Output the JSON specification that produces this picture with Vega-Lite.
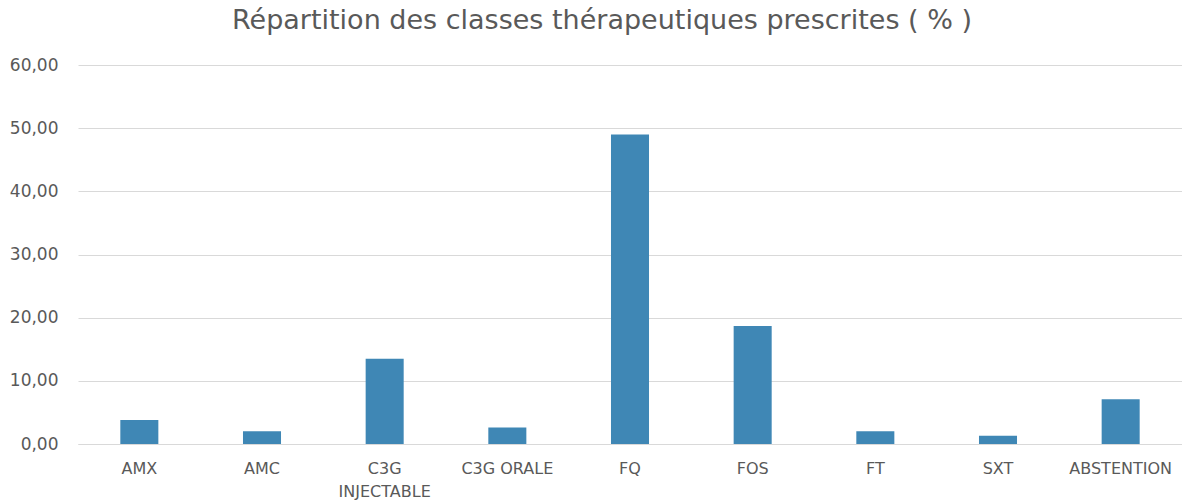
{
  "$schema": "https://vega.github.io/schema/vega-lite/v6.json",
  "width": 1104,
  "height": 379,
  "autosize": {"type": "none"},
  "padding": {"left": 78, "top": 65, "right": 0, "bottom": 57},
  "background": "white",
  "title": {
    "text": "Répartition des classes thérapeutiques prescrites ( % )",
    "anchor": "start",
    "frame": "group",
    "dx": 154,
    "offset": 21,
    "font": "DejaVu Sans",
    "fontSize": 27,
    "fontWeight": "normal",
    "color": "#595959"
  },
  "data": {
    "values": [
      {"classe": "AMX", "pct": 3.8},
      {"classe": "AMC", "pct": 2.0},
      {"classe": "C3G INJECTABLE", "pct": 13.5},
      {"classe": "C3G ORALE", "pct": 2.6},
      {"classe": "FQ", "pct": 49.0},
      {"classe": "FOS", "pct": 18.7},
      {"classe": "FT", "pct": 2.0},
      {"classe": "SXT", "pct": 1.3},
      {"classe": "ABSTENTION", "pct": 7.1}
    ]
  },
  "mark": {"type": "bar", "color": "#3f87b5"},
  "encoding": {
    "x": {
      "field": "classe",
      "type": "nominal",
      "sort": null,
      "scale": {"paddingInner": 0.69, "paddingOuter": 0.345},
      "axis": {
        "title": null,
        "labelAngle": 0,
        "ticks": false,
        "domain": true,
        "domainColor": "#d9d9d9",
        "labelFont": "DejaVu Sans",
        "labelFontSize": 16,
        "labelColor": "#595959",
        "labelPadding": 16,
        "labelLineHeight": 23,
        "labelOverlap": false,
        "labelExpr": "datum.label == 'C3G INJECTABLE' ? ['C3G', 'INJECTABLE'] : datum.label"
      }
    },
    "y": {
      "field": "pct",
      "type": "quantitative",
      "scale": {"domain": [0, 60]},
      "axis": {
        "title": null,
        "values": [0, 10, 20, 30, 40, 50, 60],
        "ticks": false,
        "domain": false,
        "gridColor": "#d9d9d9",
        "labelFont": "DejaVu Sans",
        "labelFontSize": 17,
        "labelColor": "#595959",
        "labelPadding": 20,
        "labelExpr": "replace(format(datum.value, '.2f'), '.', ',')"
      }
    }
  },
  "config": {"view": {"stroke": null}}
}
